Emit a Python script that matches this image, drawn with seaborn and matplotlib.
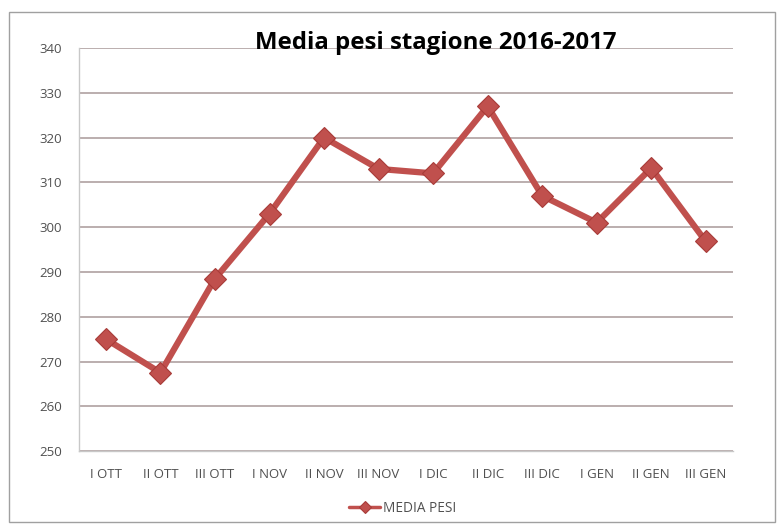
import pandas as pd
import matplotlib.pyplot as plt
import seaborn as sns
from matplotlib.patches import Rectangle

# dati
periodi = ["I OTT", "II OTT", "III OTT", "I NOV", "II NOV", "III NOV",
           "I DIC", "II DIC", "III DIC", "I GEN", "II GEN", "III GEN"]
media_pesi = [275, 267.5, 288.5, 303, 320, 313, 312, 327, 307, 301, 313.2, 296.8]

RED = "#C0504D"
GRID = "#b5a8a8"
TXT = "#505050"

df = pd.DataFrame({"x": range(len(periodi)), "periodo": periodi, "MEDIA PESI": media_pesi})

sns.set_theme(style="white")
plt.rcParams["font.family"] = ["Open Sans", "DejaVu Sans"]

fig = plt.figure(figsize=(7.79, 5.27), dpi=100)
ax = fig.add_axes([0.101, 0.144, 0.840, 0.765])

sns.lineplot(data=df, x="x", y="MEDIA PESI", ax=ax, color=RED, linewidth=4.5,
             marker="D", markersize=11, markeredgecolor="#a83c39", markeredgewidth=0.8,
             label="MEDIA PESI", legend=False)

ax.set_xlim(-0.5, len(periodi) - 0.5)
ax.set_ylim(250, 340)
ax.set_yticks(range(250, 341, 10))
ax.set_xticks(range(len(periodi)))
ax.set_xticklabels(periodi)
ax.set_xticks([i + 0.5 for i in range(-1, len(periodi))], minor=True)
ax.yaxis.grid(True, color=GRID, linewidth=1.3)
ax.set_axisbelow(True)
ax.set_xlabel("")
ax.set_ylabel("")

for side in ["top", "right"]:
    ax.spines[side].set_visible(False)
for side in ["left", "bottom"]:
    ax.spines[side].set_color("#c8c8c8")
    ax.spines[side].set_linewidth(1.0)

ax.tick_params(axis="x", which="major", length=0, pad=12, labelsize=9.5, labelcolor=TXT)
ax.tick_params(axis="x", which="minor", length=5, color="#c8c8c8", direction="out")
ax.tick_params(axis="y", length=5, color="#c8c8c8", direction="out", pad=7,
               labelsize=9.5, labelcolor=TXT)

fig.text(0.56, 0.919, "Media pesi stagione 2016-2017", ha="center", va="center",
         fontsize=17.3, fontweight="bold", color="black")

leg = fig.legend(handles=ax.get_lines()[:1], labels=["MEDIA PESI"],
                 loc="center", bbox_to_anchor=(0.517, 0.035), frameon=False,
                 fontsize=9.8, handlelength=2.3, handletextpad=0.2, markerscale=0.6)
for t in leg.get_texts():
    t.set_color(TXT)
for h in leg.legend_handles:
    h.set_linewidth(2.5)

# cornice esterna del grafico
fig.patches.append(Rectangle((0.011, 0.01), 0.984, 0.968, transform=fig.transFigure,
                             fill=False, edgecolor="#a0a0a0", linewidth=1.0))

plt.savefig("out.png", dpi=100)
plt.close()
